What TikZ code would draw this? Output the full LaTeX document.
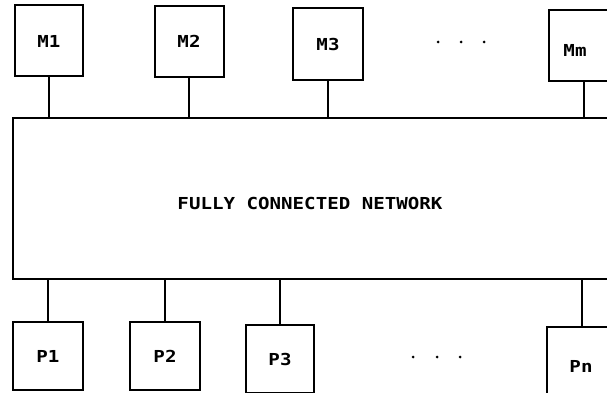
\documentclass[tikz,border=0pt]{standalone}
\usepackage{fontspec}
\newfontfamily\dotfont{DejaVu Sans Mono}
\newcommand{\lbl}[1]{\scalebox{1.16}[1]{\dotfont\bfseries\fontsize{16.5}{16.5}\selectfont #1}}
\begin{document}
\begin{tikzpicture}[x=1pt,y=-1pt,
  unit/.style={draw,line width=2pt,rectangle,inner sep=0pt},
  link/.style={line width=2pt},
  txt/.style={inner sep=0pt}]
\useasboundingbox (0,0) rectangle (607,393);
\clip (0,0) rectangle (607,393);
% memory modules
\node[unit,minimum width=68pt,minimum height=71pt] (M1) at (49,41) {\lbl{M1}};
\node[unit,minimum width=69pt,minimum height=71pt] (M2) at (189,41.5) {\lbl{M2}};
\node[unit,minimum width=70pt,minimum height=72pt] (M3) at (328,44) {\lbl{M3}};
\node[unit,minimum width=70pt,minimum height=71pt] (Mm) at (584,45.5) {};
\node[txt] (Mmt) at (575,50) {\lbl{Mm}};
% network
\node[unit,minimum width=610pt,minimum height=161pt] (net) at (318,198.5) {};
\node[txt] (nett) at (310,203) {\lbl{FULLY CONNECTED NETWORK}};
% processors
\node[unit,minimum width=70pt,minimum height=68pt] (P1) at (48,356) {\lbl{P1}};
\node[unit,minimum width=70pt,minimum height=68pt] (P2) at (165,356) {\lbl{P2}};
\node[unit,minimum width=68pt,minimum height=68pt] (P3) at (280,359) {\lbl{P3}};
\node[unit,minimum width=70pt,minimum height=68pt] (Pn) at (582,361) {};
\node[txt] (Pnt) at (581,366) {\lbl{Pn}};
% links
\foreach \m in {M1,M2,M3,Mm}
  \draw[link] (\m.south) -- (\m.south |- net.north);
\foreach \p in {P1,P2,P3,Pn}
  \draw[link] (\p.north) -- (\p.north |- net.south);
% ellipses
\foreach \x in {438,461,484} \fill (\x,42) circle (1.5pt);
\foreach \x in {413,437,460} \fill (\x,357) circle (1.5pt);
\end{tikzpicture}
\end{document}
